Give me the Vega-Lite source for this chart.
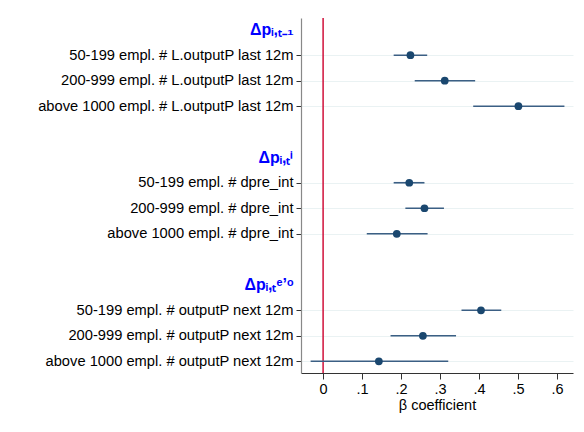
{
  "$schema": "https://vega.github.io/schema/vega-lite/v6.json",
  "width": 272,
  "height": 355,
  "autosize": {"type": "none"},
  "padding": {"left": 301, "top": 18, "right": 11, "bottom": 59},
  "background": "white",
  "config": {"view": {"stroke": null}, "font": "Liberation Sans"},
  "datasets": {
    "coefs": [
      {"term": "50-199 empl. # L.outputP last 12m", "est": 0.224, "lo": 0.181, "hi": 0.267},
      {"term": "200-999 empl. # L.outputP last 12m", "est": 0.312, "lo": 0.235, "hi": 0.390},
      {"term": "above 1000 empl. # L.outputP last 12m", "est": 0.501, "lo": 0.385, "hi": 0.619},
      {"term": "50-199 empl. # dpre_int", "est": 0.221, "lo": 0.181, "hi": 0.260},
      {"term": "200-999 empl. # dpre_int", "est": 0.260, "lo": 0.211, "hi": 0.310},
      {"term": "above 1000 empl. # dpre_int", "est": 0.189, "lo": 0.112, "hi": 0.268},
      {"term": "50-199 empl. # outputP next 12m", "est": 0.405, "lo": 0.355, "hi": 0.457},
      {"term": "200-999 empl. # outputP next 12m", "est": 0.256, "lo": 0.173, "hi": 0.341},
      {"term": "above 1000 empl. # outputP next 12m", "est": 0.143, "lo": -0.032, "hi": 0.321}
    ],
    "ref": [{"zero": 0}]
  },
  "data": {"name": "coefs"},
  "layer": [
    {
      "data": {"name": "ref"},
      "mark": {"type": "rule", "color": "#d0103a", "strokeWidth": 1.5},
      "encoding": {
        "x": {"field": "zero", "type": "quantitative"}
      }
    },
    {
      "mark": {"type": "rule", "color": "#3b5f84", "strokeWidth": 1.6},
      "encoding": {
        "y": {
          "field": "term",
          "type": "nominal",
          "sort": null,
          "scale": {
            "type": "point",
            "padding": 0.46,
            "domain": [
              "Δpᵢ,ₜ₋₁",
              "50-199 empl. # L.outputP last 12m",
              "200-999 empl. # L.outputP last 12m",
              "above 1000 empl. # L.outputP last 12m",
              " ",
              "Δpᵢ,ₜⁱ",
              "50-199 empl. # dpre_int",
              "200-999 empl. # dpre_int",
              "above 1000 empl. # dpre_int",
              "  ",
              "Δpᵢ,ₜᵉ’ᵒ",
              "50-199 empl. # outputP next 12m",
              "200-999 empl. # outputP next 12m",
              "above 1000 empl. # outputP next 12m"
            ]
          },
          "axis": {
            "title": null,
            "domainColor": "#888888",
            "domainWidth": 1.2,
            "tickColor": "#333333",
            "tickSize": 5,
            "labelPadding": 3,
            "labelLimit": 320,
            "labelFontSize": {"condition": {"test": "indexof(datum.label, 'Δ') >= 0", "value": 16}, "value": 14.7},
            "labelColor": {"condition": {"test": "indexof(datum.label, 'Δ') >= 0", "value": "#0000ff"}, "value": "#000000"},
            "labelFontWeight": {"condition": {"test": "indexof(datum.label, 'Δ') >= 0", "value": "bold"}, "value": "normal"},
            "tickOpacity": {"condition": {"test": "indexof(datum.label, 'empl') >= 0", "value": 1}, "value": 0},
            "grid": true,
            "gridColor": "#eaf2f3",
            "gridWidth": 1,
            "gridOpacity": {"condition": {"test": "indexof(datum.label, 'empl') >= 0", "value": 1}, "value": 0}
          }
        },
        "x": {
          "field": "lo",
          "type": "quantitative",
          "scale": {"domain": [-0.0567, 0.641], "nice": false, "zero": false},
          "axis": {
            "title": "β coefficient",
            "titleFontSize": 14.5,
            "titleFontWeight": "normal",
            "titleColor": "#000000",
            "titlePadding": 3,
            "values": [0, 0.1, 0.2, 0.3, 0.4, 0.5, 0.6],
            "labelExpr": "datum.value == 0 ? '0' : substring(format(datum.value, '.1f'), 1)",
            "labelFontSize": 14.5,
            "labelColor": "#000000",
            "labelPadding": 3,
            "tickSize": 6,
            "tickColor": "#333333",
            "domainColor": "#333333",
            "grid": false
          }
        },
        "x2": {"field": "hi"}
      }
    },
    {
      "mark": {"type": "circle", "color": "#1a476f", "opacity": 1, "size": 60},
      "encoding": {
        "y": {"field": "term", "type": "nominal", "sort": null},
        "x": {"field": "est", "type": "quantitative"}
      }
    }
  ]
}
